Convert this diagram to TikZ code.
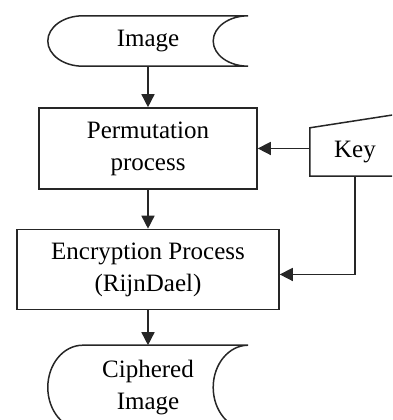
\documentclass[tikz,border=0pt]{standalone}
\usepackage{fontspec}
\setmainfont{Liberation Serif}
\usetikzlibrary{arrows.meta}
\usetikzlibrary{calc}
\usetikzlibrary{positioning}

% outline of a stored-data symbol around a named node
\newcommand{\storedata}[1]{%
  \draw[line] let \p1 = ($(#1.north)-(#1.south)$) in
    ($(#1.north west)+(35pt,0)$)
      arc[start angle=90, end angle=270, x radius=35pt, y radius=0.5*\y1]
      -- (#1.south east)
      arc[start angle=270, end angle=90, x radius=35pt, y radius=0.5*\y1]
      -- cycle;}

\begin{document}
\begin{tikzpicture}[x=1pt, y=1pt, font=\fontsize{25}{32}\selectfont,
    line/.style={draw=black!85, line width=1.5pt},
    arr/.style={line, -{Triangle[length=13pt,width=13pt]}},
    storage/.style={minimum width=200pt, minimum height=#1, inner sep=0pt, align=center},
    process/.style={line, rectangle, align=center, inner sep=0pt},
    manual/.style={minimum width=90pt, minimum height=48pt, inner sep=0pt}]
        \clip (0,0) rectangle (392,-420);

        \node[storage=50pt] (img) at (148,-41) {Image};
        \node[process, minimum width=218pt, minimum height=81pt, below=41pt of img] (perm) {Permutation\\process};
        \node[process, minimum width=262pt, minimum height=80pt, below=39pt of perm] (enc) {Encryption Process\\(RijnDael)};
        \node[storage=84pt, below=35pt of enc] (out) {Ciphered\\Image};
        \node[manual] (key) at (355,-152) {Key};

        \storedata{img}
        \storedata{out}
        % manual input: slanted top edge
        \draw[line] (key.south west) -- (key.north west) -- ($(key.north east)+(0,14)$)
            -- (key.south east) -- cycle;

        \draw[arr] (img) -- (perm);
        \draw[arr] (perm) -- (enc);
        \draw[arr] (enc) -- (out);
        \draw[arr] (key.west |- perm.east) -- (perm.east);
        \draw[arr] (key.south) |- ([yshift=-5pt]enc.east);
    \end{tikzpicture}
\end{document}
